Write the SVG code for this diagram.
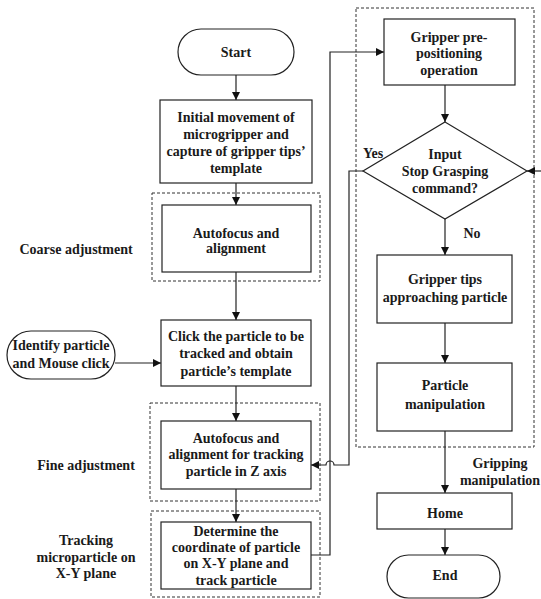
<svg xmlns="http://www.w3.org/2000/svg" width="541" height="599" viewBox="0 0 541 599">
  <style>
    .box { fill: #fff; stroke: #222; stroke-width: 1.2; }
    .grp { fill: none; stroke: #333; stroke-width: 1; stroke-dasharray: 3 2; }
    .ln { fill: none; stroke: #222; stroke-width: 1.2; }
    text { font-weight: bold; font-size: 14px; fill: #1a1a1a; text-anchor: middle; }
  </style>
  <defs>
    <marker id="arr" viewBox="0 0 10 10" refX="10" refY="5" markerWidth="8" markerHeight="8" markerUnits="userSpaceOnUse" orient="auto">
      <path d="M0,0 L10,5 L0,10 z" fill="#111"/>
    </marker>
  </defs>

  <rect width="541" height="599" fill="#fff"/>

  <!-- dashed grouping frames -->
  <g id="groups">
    <rect class="grp" x="152" y="193" width="168" height="88"/>
    <rect class="grp" x="150" y="403" width="170" height="98"/>
    <rect class="grp" x="151" y="511" width="169" height="86"/>
    <rect class="grp" x="356" y="8" width="178" height="439"/>
  </g>

  <!-- connectors -->
  <g id="connectors">
    <line class="ln" x1="236" y1="75" x2="236" y2="100" marker-end="url(#arr)"/>
    <line class="ln" x1="236" y1="183" x2="236" y2="205" marker-end="url(#arr)"/>
    <line class="ln" x1="236" y1="272" x2="236" y2="320" marker-end="url(#arr)"/>
    <line class="ln" x1="115" y1="363" x2="161" y2="363" marker-end="url(#arr)"/>
    <line class="ln" x1="236" y1="386" x2="236" y2="421" marker-end="url(#arr)"/>
    <line class="ln" x1="236" y1="489" x2="236" y2="522" marker-end="url(#arr)"/>
    <!-- tracking result back to pre-positioning -->
    <path class="ln" d="M311,555 H330 V52 H384" marker-end="url(#arr)"/>
    <!-- Yes branch back to fine adjustment, hopping over the vertical line -->
    <path class="ln" d="M363,171 H349 V465 H334 A4,4 0 0 0 326,465 H311" marker-end="url(#arr)"/>
    <line class="ln" x1="445" y1="85" x2="445" y2="122" marker-end="url(#arr)"/>
    <line class="ln" x1="541" y1="171" x2="527" y2="171" marker-end="url(#arr)"/>
    <line class="ln" x1="445" y1="219" x2="445" y2="255" marker-end="url(#arr)"/>
    <line class="ln" x1="445" y1="323" x2="445" y2="363" marker-end="url(#arr)"/>
    <line class="ln" x1="445" y1="431" x2="445" y2="493" marker-end="url(#arr)"/>
    <line class="ln" x1="445" y1="529" x2="445" y2="555" marker-end="url(#arr)"/>
  </g>

  <g font-family="'Liberation Serif', 'Times New Roman', 'DejaVu Serif', serif">
  <g id="start">
    <rect class="box" x="178" y="29" width="116" height="46" rx="23"/>
    <text x="236" y="57">Start</text>
  </g>

  <g id="initial-movement">
    <rect class="box" x="160" y="100" width="152" height="83"/>
    <text x="236" y="122">Initial movement of</text>
    <text x="236" y="139">microgripper and</text>
    <text x="236" y="156">capture of gripper tips’</text>
    <text x="236" y="173">template</text>
  </g>

  <g id="coarse-autofocus">
    <rect class="box" x="162" y="205" width="149" height="67"/>
    <text x="236" y="238">Autofocus and</text>
    <text x="236" y="253">alignment</text>
  </g>

  <g id="click-particle">
    <rect class="box" x="161" y="320" width="150" height="66"/>
    <text x="236" y="341">Click the particle to be</text>
    <text x="236" y="358">tracked and obtain</text>
    <text x="236" y="376">particle’s template</text>
  </g>

  <g id="identify-particle">
    <rect class="box" x="7" y="331" width="108" height="48" rx="24"/>
    <text x="61" y="350">Identify particle</text>
    <text x="61" y="368">and Mouse click</text>
  </g>

  <g id="fine-autofocus">
    <rect class="box" x="161" y="421" width="150" height="68"/>
    <text x="236" y="443">Autofocus and</text>
    <text x="236" y="459">alignment for tracking</text>
    <text x="236" y="476">particle in Z axis</text>
  </g>

  <g id="track-xy">
    <rect class="box" x="161" y="522" width="150" height="67"/>
    <text x="236" y="536">Determine the</text>
    <text x="236" y="552">coordinate of  particle</text>
    <text x="236" y="568">on X-Y plane and</text>
    <text x="236" y="585">track particle</text>
  </g>

  <g id="stage-labels">
    <text x="76" y="254">Coarse adjustment</text>
    <text x="86" y="470">Fine adjustment</text>
    <text x="86" y="545">Tracking</text>
    <text x="86" y="562">microparticle on</text>
    <text x="86" y="578">X-Y plane</text>
  </g>

  <g id="pre-positioning">
    <rect class="box" x="384" y="19" width="131" height="66"/>
    <text x="449" y="42">Gripper pre-</text>
    <text x="449" y="58">positioning</text>
    <text x="449" y="75">operation</text>
  </g>

  <g id="stop-decision">
    <polygon class="box" points="445,122 527,171 445,219 363,171"/>
    <text x="445" y="159">Input</text>
    <text x="445" y="176">Stop Grasping</text>
    <text x="445" y="193">command?</text>
    <text x="373" y="158">Yes</text>
    <text x="472" y="238">No</text>
  </g>

  <g id="approach">
    <rect class="box" x="377" y="255" width="135" height="68"/>
    <text x="445" y="284">Gripper tips</text>
    <text x="445" y="302">approaching particle</text>
  </g>

  <g id="manipulation">
    <rect class="box" x="377" y="363" width="135" height="68"/>
    <text x="445" y="390">Particle</text>
    <text x="445" y="409">manipulation</text>
  </g>

  <g id="gripping-label">
    <text x="500" y="468">Gripping</text>
    <text x="500" y="485">manipulation</text>
  </g>

  <g id="home">
    <rect class="box" x="377" y="493" width="135" height="36"/>
    <text x="445" y="518">Home</text>
  </g>

  <g id="end">
    <rect class="box" x="387" y="555" width="113" height="43" rx="21.5"/>
    <text x="445" y="580">End</text>
  </g>
  </g>
</svg>
